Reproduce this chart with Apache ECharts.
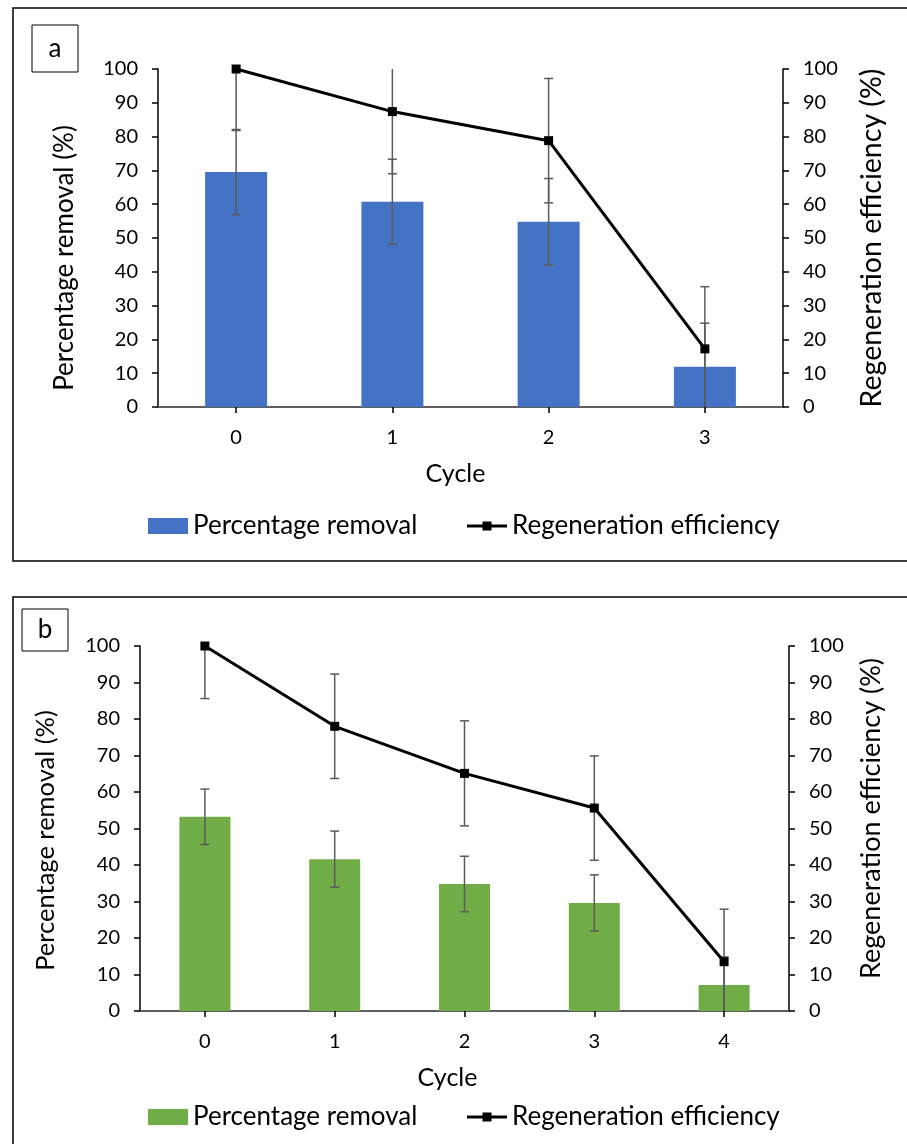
<!DOCTYPE html>
<html>
<head>
<meta charset="utf-8">
<script src="https://cdn.jsdelivr.net/npm/echarts@6/dist/echarts.min.js"></script>
<style>
  html, body { margin: 0; padding: 0; background: #fff; }
  #chartA { position: absolute; left: 0; top: 0; width: 907px; height: 580px; }
  #chartB { position: absolute; left: 0; top: 580px; width: 907px; height: 564px; }
</style>
</head>
<body>
<div id="chartA"></div>
<div id="chartB"></div>
<script>
// ---- Data ----
const cyclesA = ['0', '1', '2', '3'];
const removalA = [69.5, 60.7, 54.8, 11.9];
const removalErrA = [12.6, 12.6, 12.8, 12.9];
const regenA = [100, 87.4, 78.8, 17.2];
const regenErrA = [18.2, 18.4, 18.4, 18.4];

const cyclesB = ['0', '1', '2', '3', '4'];
const removalB = [53.2, 41.6, 34.8, 29.6, 7.1];
const removalErrB = [7.6, 7.7, 7.6, 7.7, 7.7];
const regenB = [100, 78.0, 65.1, 55.6, 13.5];
const regenErrB = [14.4, 14.3, 14.4, 14.3, 14.4];

const yMin = 0, yMax = 100, yStep = 10;
const xName = 'Cycle';
const leftName = 'Percentage removal (%)';
const rightName = 'Regeneration efficiency (%)';
const barSeriesName = 'Percentage removal';
const lineSeriesName = 'Regeneration efficiency';

// ---- Styling ----
const FONT = 'Lato';
const ERR_COLOR = '#5a5a5a';

function errorRenderer(params, api) {
  const i = api.value(0), v = api.value(1), e = api.value(2);
  const lo = Math.max(yMin, v - e), hi = Math.min(yMax, v + e);
  const pLo = api.coord([i, lo]);
  const pHi = api.coord([i, hi]);
  const cap = 4.5;
  const style = { stroke: ERR_COLOR, lineWidth: 1.5 };
  const children = [{ type: 'line', shape: { x1: pLo[0], y1: pLo[1], x2: pHi[0], y2: pHi[1] }, style: style }];
  if (v - e >= yMin) children.push({ type: 'line', shape: { x1: pLo[0] - cap, y1: pLo[1], x2: pLo[0] + cap, y2: pLo[1] }, style: style });
  if (v + e <= yMax) children.push({ type: 'line', shape: { x1: pHi[0] - cap, y1: pHi[1], x2: pHi[0] + cap, y2: pHi[1] }, style: style });
  return { type: 'group', children: children };
}

function buildOption(cfg) {
  const valueAxis = (pos, name, gap, size, pad) => ({
    type: 'value', position: pos, min: yMin, max: yMax, interval: yStep,
    name: name, nameLocation: 'middle', nameRotate: 90, nameGap: gap,
    nameTextStyle: { fontFamily: FONT, fontSize: size, color: '#000', padding: pad },
    axisLine: { show: true, lineStyle: { color: '#000', width: 1.5 } },
    axisTick: { show: true, length: 6, lineStyle: { color: '#000', width: 1.5 } },
    axisLabel: { fontFamily: FONT, fontSize: cfg.tickSize, color: '#000', margin: 20 },
    splitLine: { show: false }
  });
  const errData = (vals, errs) => vals.map((v, i) => [i, v, errs[i]]);
  const legendText = { fontFamily: FONT, fontSize: cfg.legendSize, color: '#000' };
  return {
    animation: false,
    textStyle: { fontFamily: FONT },
    grid: { left: cfg.grid.left, right: cfg.grid.right, top: cfg.grid.top, bottom: cfg.grid.bottom },
    graphic: [
      { type: 'rect', shape: { x: 13, y: cfg.border.y, width: 1000, height: cfg.border.h },
        style: { fill: 'none', stroke: '#000', lineWidth: 1.5 }, silent: true },
      { type: 'rect', shape: { x: cfg.tag.x, y: cfg.tag.y, width: cfg.tag.w, height: cfg.tag.h },
        style: { fill: '#fff', stroke: '#000', lineWidth: 1 }, silent: true },
      { type: 'text', x: cfg.tag.x + cfg.tag.w / 2, y: cfg.tag.y + cfg.tag.h / 2,
        style: { text: cfg.tag.text, fontFamily: FONT, fontSize: 26, fill: '#000', align: 'center', verticalAlign: 'middle' }, silent: true }
    ],
    legend: [
      { left: cfg.legend.left1, top: cfg.legend.top, padding: 0, itemWidth: 40, itemHeight: 16, itemGap: 0,
        textStyle: legendText, selectedMode: false, data: [{ name: barSeriesName, icon: 'rect' }] },
      { left: cfg.legend.left2, top: cfg.legend.top, padding: 0, itemWidth: 40, itemHeight: 16, itemGap: 0,
        textStyle: legendText, selectedMode: false,
        data: [{ name: lineSeriesName, icon: 'path://M0,0L0,0M0,6.5L40,6.5L40,9.5L0,9.5ZM15.5,3.5L24.5,3.5L24.5,12.5L15.5,12.5ZM40,16L40,16' }] }
    ],
    xAxis: [
      { type: 'category', data: cfg.cats, position: 'bottom',
        name: xName, nameLocation: 'middle', nameGap: 54,
        nameTextStyle: { fontFamily: FONT, fontSize: cfg.xTitleSize, color: '#000', padding: [0, cfg.xTitleShift, 0, 0] },
        axisLine: { lineStyle: { color: '#000', width: 1.5 } },
        axisTick: { show: true, alignWithLabel: true, length: 6, lineStyle: { color: '#000', width: 1.5 } },
        axisLabel: { fontFamily: FONT, fontSize: cfg.tickSize, color: '#000', margin: 21 } },
      { type: 'category', data: cfg.cats, position: 'top',
        axisLine: { lineStyle: { color: '#6a6a6a', width: 1.5 } },
        axisTick: { show: false }, axisLabel: { show: false } }
    ],
    yAxis: [
      valueAxis('left', leftName, cfg.leftGap, cfg.leftTitleSize, cfg.leftPad),
      valueAxis('right', rightName, cfg.rightGap, cfg.rightTitleSize, cfg.rightPad)
    ],
    series: [
      { name: barSeriesName, type: 'bar', xAxisIndex: 0, yAxisIndex: 0, data: cfg.removal,
        barWidth: cfg.barWidth, itemStyle: { color: cfg.barColor }, z: 2 },
      { name: 'removal-error', type: 'custom', xAxisIndex: 0, yAxisIndex: 0,
        data: errData(cfg.removal, cfg.removalErr), renderItem: errorRenderer,
        encode: { x: 0, y: 1 }, z: 3, silent: true },
      { name: 'regen-error', type: 'custom', xAxisIndex: 0, yAxisIndex: 1,
        data: errData(cfg.regen, cfg.regenErr), renderItem: errorRenderer,
        encode: { x: 0, y: 1 }, z: 3, silent: true },
      { name: lineSeriesName, type: 'line', xAxisIndex: 0, yAxisIndex: 1, data: cfg.regen,
        symbol: 'rect', symbolSize: 9, showSymbol: true,
        lineStyle: { color: '#000', width: 3 }, itemStyle: { color: '#000' }, z: 5 }
    ]
  };
}

const chartA = echarts.init(document.getElementById('chartA'), null, { renderer: 'canvas' });
chartA.setOption(buildOption({
  cats: cyclesA, removal: removalA, removalErr: removalErrA, regen: regenA, regenErr: regenErrA,
  grid: { left: 158, right: 124, top: 69, bottom: 173 },
  border: { y: 8, h: 553 },
  tag: { x: 32, y: 25, w: 46, h: 47, text: 'a' },
  legend: { left1: 148, left2: 467, top: 513 },
  barWidth: 62, barColor: '#4472C4',
  tickSize: 20, leftTitleSize: 26, rightTitleSize: 28.5, xTitleSize: 25, xTitleShift: 30, legendSize: 26,
  leftGap: 80, rightGap: 74, leftPad: [0, 40, 0, 0], rightPad: 0
}));

const chartB = echarts.init(document.getElementById('chartB'), null, { renderer: 'canvas' });
chartB.setOption(buildOption({
  cats: cyclesB, removal: removalB, removalErr: removalErrB, regen: regenB, regenErr: regenErrB,
  grid: { left: 140, right: 118, top: 66, bottom: 133 },
  border: { y: 17, h: 600 },
  tag: { x: 22, y: 29, w: 46, h: 42, text: 'b' },
  legend: { left1: 148, left2: 467, top: 524 },
  barWidth: 51, barColor: '#70AD47',
  tickSize: 20, leftTitleSize: 25.5, rightTitleSize: 27, xTitleSize: 25, xTitleShift: 34, legendSize: 26,
  leftGap: 81, rightGap: 69, leftPad: [0, 24, 0, 0], rightPad: [0, 0, 0, 20]
}));
</script>
</body>
</html>
